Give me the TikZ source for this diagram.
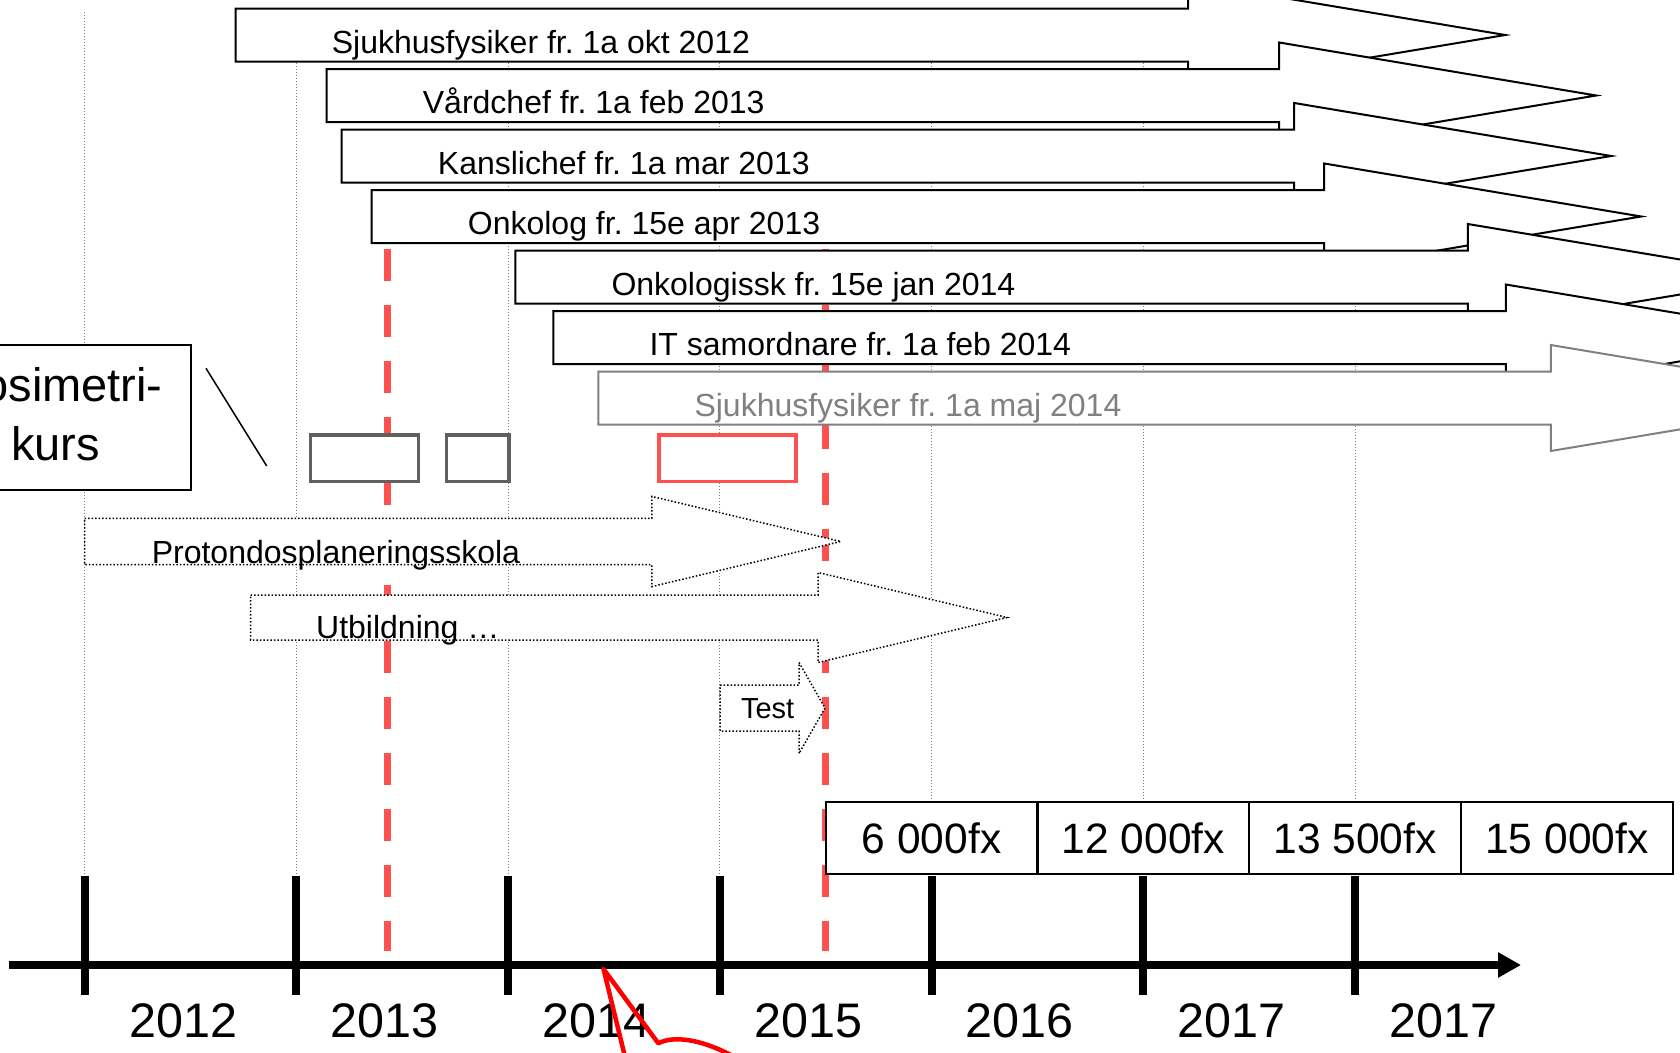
\documentclass[tikz,border=0pt]{standalone}
\usepackage{fontspec}
\setmainfont{Liberation Sans}
\usetikzlibrary{arrows.meta}
\definecolor{hellrot}{RGB}{255,80,80}
\definecolor{dunkelgrau}{RGB}{96,96,96}
\definecolor{mittelgrau}{RGB}{128,128,128}
\frenchspacing

\begin{document}
\begin{tikzpicture}[x=1pt, y=-1pt,
				>={Triangle[length=23pt,width=24pt]},   %Pfeilspitze der Zeitachse
				raster/.style={draw=mittelgrau, line width=1pt, dash pattern=on 1pt off 2pt},
				rotstrich/.style={draw=hellrot, line width=7.5pt, dash pattern=on 32pt off 24pt},
				pfeil/.style={draw=#1, line width=2pt, fill=white},
				punktpfeil/.style={draw=black, line width=1.5pt, fill=white, dash pattern=on 1.5pt off 2pt},
				kasten/.style={draw=#1, line width=3.5pt, fill=white},
				pfeiltext/.style={anchor=base west, inner sep=0pt, font=\fontsize{32}{38}\selectfont},
				feld/.style={draw, line width=2pt, fill=white, minimum width=211.7pt, minimum height=72.3pt, inner sep=0pt, font=\fontsize{42.5}{51}\selectfont},
				jahr/.style={anchor=base, inner sep=0pt, font=\fontsize{48.5}{58}\selectfont}]
				\useasboundingbox (0,0) rectangle (1680,1052);
				\clip (0,0) rectangle (1680,1052);
				%Raster zeichnen
				\foreach \i in {0,...,6} \draw[raster] (84.6+211.75*\i,12) -- (84.6+211.75*\i,876);
				%Rote Markierungen
				\foreach \x in {387.5,825.7} \draw[rotstrich] (\x,249) -- (\x,951);
				%Stellen als Blockpfeile
				\foreach \x/\y/\farbe/\txt [count=\i] in {235.7/35/black/Sjukhusfysiker fr. 1a okt 2012,
						326.7/95.5/black/Vårdchef fr. 1a feb 2013,
						341.7/156/black/Kanslichef fr. 1a mar 2013,
						371.7/216.5/black/Onkolog fr. 15e apr 2013,
						515.3/277/black/Onkologissk fr. 15e jan 2014,
						553.3/337.5/black/IT samordnare fr. 1a feb 2014,
						598.3/398/mittelgrau/Sjukhusfysiker fr. 1a maj 2014}{
					\draw[pfeil=\farbe] (\x,\y-26.5) -- ++(952.5,0) -- ++(0,-26.5) -- ++(317,53) -- ++(-317,53) -- ++(0,-26.5) -- ++(-952.5,0) -- cycle;
					\node[pfeiltext, text=\farbe] (stelle\i) at (\x+96,\y+18) {\txt};
				}
				%Dosimetrikurs
				\draw[line width=2pt, fill=white] (-81.5,345) rectangle (190.7,490);
				\node[anchor=base, inner sep=0pt, font=\fontsize{47}{56}\selectfont] (dosi1) at (55.5,401.7) {Dosimetri-};
				\node[anchor=base, inner sep=0pt, font=\fontsize{47}{56}\selectfont] (dosi2) at (55.5,460) {kurs};
				\draw[line width=1.5pt] (206,368.3) -- (266.7,466);
				\draw[kasten=dunkelgrau] (310.7,435) rectangle (418.3,481.7);
				\draw[kasten=dunkelgrau] (446.7,435) rectangle (509,481.7);
				\draw[kasten=hellrot] (659,435) rectangle (796,481.7);
				%Gepunktete Pfeile
				\draw[punktpfeil] (84.6,518.3) -- ++(567.2,0) -- ++(0,-21.9) -- ++(189,45.1) -- ++(-189,45.1) -- ++(0,-21.9) -- ++(-567.2,0) -- cycle;
				\node[pfeiltext] (proton) at (151.6,563.2) {Protondosplaneringsskola};
				\draw[punktpfeil] (250.7,595) -- ++(567.3,0) -- ++(0,-22.5) -- ++(189,45) -- ++(-189,45) -- ++(0,-22.5) -- ++(-567.3,0) -- cycle;
				\node[pfeiltext] (utb) at (316,638.8) {Utbildning …};
				\draw[punktpfeil] (720,685) -- ++(79,0) -- ++(0,-22.5) -- ++(26,45.5) -- ++(-26,45.5) -- ++(0,-22.5) -- ++(-79,0) -- cycle;
				\node[pfeiltext, font=\fontsize{29}{35}\selectfont] (test) at (740.8,718) {Test};
				%Felder
				\foreach \txt [count=\i from 4] in {6 000fx,12 000fx,13 500fx,15 000fx}
					\node[feld] (feld\i) at (84.6+211.75*\i,837.9) {\txt};
				% Achse zeichnen
				\draw[->, line width=8pt] (8.6,965) -- (1521,965);
				\foreach \i in {0,...,6} \draw[line width=8pt] (84.6+211.75*\i,876) -- (84.6+211.75*\i,995);
				% Achse beschriften
				\foreach \x/\txt [count=\i] in {183.1/2012,384.6/2013,596.35/2014,808.1/2015,1019.85/2016,1231.6/2017,1443.35/2017}
					\node[jahr] (jahr\i) at (\x,1037) {\txt};
				%Sprechblase
				\draw[red, line width=4.5pt, line join=round] (627,1065) -- (603.5,969) -- (658.3,1043.3) .. controls (672,1036) and (700,1037) .. (740,1060);
			\end{tikzpicture}
\end{document}
